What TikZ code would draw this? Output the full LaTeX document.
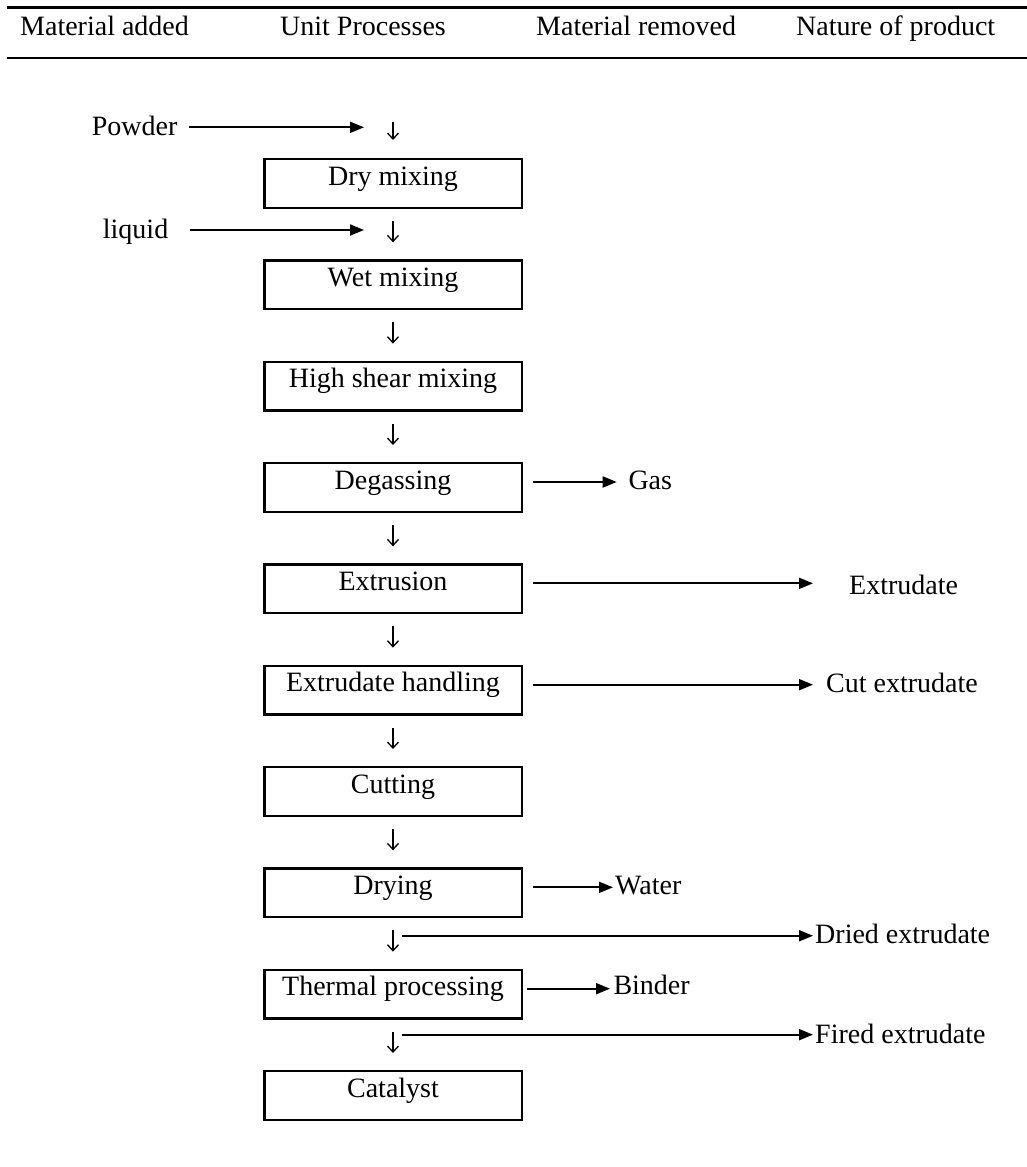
\documentclass[tikz,border=0pt]{standalone}
\usepackage{fontspec}
\setmainfont{Liberation Serif}
\usetikzlibrary{arrows.meta}
\begin{document}
\begin{tikzpicture}[x=1pt,y=-1pt,
  every node/.style={font=\fontsize{28}{34}\selectfont, inner sep=0pt},
  box/.style={draw, line width=2.2pt, minimum width=257.2pt, text height=25.9pt, text depth=22.9pt, anchor=base},
  lbl/.style={anchor=base west},
  harr/.style={line width=1.9pt, -{Triangle[length=14pt,width=11pt]}},
  darr/.style={line width=1.3pt, -{Straight Barb[length=6pt,width=11pt]}, shorten <=12pt, shorten >=17pt},
  hrule/.style={line width=2.3pt}]
\useasboundingbox (0,0) rectangle (1027,1167);

% header
\draw[hrule] (7,7.5) -- (1027,7.5);
\draw[hrule] (7,57.7) -- (1027,57.7);
\node[lbl] (h1) at (20,35) {Material added};
\node[lbl] (h2) at (280,35) {Unit Processes};
\node[lbl] (h3) at (536,35) {Material removed};
\node[lbl] (h4) at (796,35) {Nature of product};

% process boxes
\node[box] (b0) at (393,185) {Dry mixing};
\node[box] (b1) at (393,286.33) {Wet mixing};
\node[box] (b2) at (393,387.67) {High shear mixing};
\node[box] (b3) at (393,489) {Degassing};
\node[box] (b4) at (393,590.33) {Extrusion};
\node[box] (b5) at (393,691.67) {Extrudate handling};
\node[box] (b6) at (393,793) {Cutting};
\node[box] (b7) at (393,894.33) {Drying};
\node[box] (b8) at (393,995.67) {Thermal processing};
\node[box] (b9) at (393,1097) {Catalyst};

% down arrows
\coordinate (in0) at (393,122);
\draw[darr, shorten <=0pt, shorten >=18pt] (in0) -- (b0.north);
\draw[darr] (b0.south) -- (b1.north);
\draw[darr] (b1.south) -- (b2.north);
\draw[darr] (b2.south) -- (b3.north);
\draw[darr] (b3.south) -- (b4.north);
\draw[darr] (b4.south) -- (b5.north);
\draw[darr] (b5.south) -- (b6.north);
\draw[darr] (b6.south) -- (b7.north);
\draw[darr] (b7.south) -- (b8.north);
\draw[darr] (b8.south) -- (b9.north);

% material added
\node[lbl] (powder) at (91.7,135) {Powder};
\coordinate (pa) at (364,127.3);
\draw[harr, shorten <=11.8pt] (pa -| powder.east) -- (pa);
\node[lbl] (liquid) at (102.7,238) {liquid};
\coordinate (la) at (364,230);
\draw[harr, shorten <=21.3pt] (la -| liquid.east) -- (la);

% material removed / products
\node[lbl] (gas) at (628.3,489) {Gas};
\draw[harr, shorten <=10.3pt, shorten >=11.6pt] ([yshift=5.5pt]b3.east) -- ([yshift=5.5pt]b3.east -| gas.west);

\node[lbl] (extr) at (849,594) {Extrudate};
\draw[harr, shorten <=10.3pt, shorten >=36pt] ([yshift=5.5pt]b4.east) -- ([yshift=5.5pt]b4.east -| extr.west);

\node[lbl] (cut) at (826,692.7) {Cut extrudate};
\draw[harr, shorten <=10.3pt, shorten >=13pt] ([yshift=5.5pt]b5.east) -- ([yshift=5.5pt]b5.east -| cut.west);

\node[lbl] (water) at (615,894) {Water};
\draw[harr, shorten <=10.3pt, shorten >=2pt] ([yshift=5.5pt]b7.east) -- ([yshift=5.5pt]b7.east -| water.west);

\node[lbl] (binder) at (613.3,994.7) {Binder};
\draw[harr, shorten <=4pt, shorten >=3.3pt] ([yshift=5.5pt]b8.east) -- ([yshift=5.5pt]b8.east -| binder.west);

\node[lbl] (dried) at (815,943.7) {Dried extrudate};
\coordinate (j7) at ([yshift=-17.4pt]b7.south);
\draw[harr, shorten <=9pt, shorten >=2pt] (j7) -- (j7 -| dried.west);

\node[lbl] (fired) at (815,1043) {Fired extrudate};
\coordinate (j8) at ([yshift=-15pt]b8.south);
\draw[harr, shorten <=9pt, shorten >=2pt] (j8) -- (j8 -| fired.west);
\end{tikzpicture}
\end{document}
